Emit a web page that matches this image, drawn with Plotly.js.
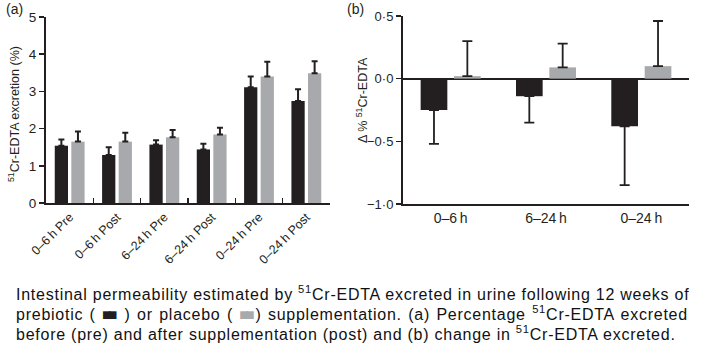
<!DOCTYPE html>
<html>
<head>
<meta charset="utf-8">
<script src="https://cdn.plot.ly/plotly-3.0.1.min.js"></script>
<style>
html,body{margin:0;padding:0;background:#fff;}
#chart{width:710px;height:358px;}
</style>
</head>
<body>
<div id="chart"></div>
<script>
// Panel (a): % 51Cr-EDTA excretion
const categoriesA = ["0–6\u2009h Pre", "0–6\u2009h Post", "6–24\u2009h Pre", "6–24\u2009h Post", "0–24\u2009h Pre", "0–24\u2009h Post"];
const prebioticA = [1.54, 1.29, 1.57, 1.44, 3.11, 2.74];
const prebioticErrA = [0.17, 0.21, 0.12, 0.15, 0.29, 0.32];
const placeboA = [1.65, 1.65, 1.77, 1.84, 3.40, 3.49];
const placeboErrA = [0.27, 0.24, 0.19, 0.18, 0.40, 0.32];

// Panel (b): change in 51Cr-EDTA
const categoriesB = ["0–6\u2009h", "6–24\u2009h", "0–24\u2009h"];
const prebioticB = [-0.25, -0.14, -0.38];
const prebioticErrB = [0.27, 0.21, 0.47];
const placeboB = [0.02, 0.09, 0.10];
const placeboErrB = [0.28, 0.19, 0.36];

const tickValsA = [0, 1, 2, 3, 4, 5];
const tickValsB = [0.5, 0, -0.5, -1.0];
const tickTextB = ["0·5", "0·0", "−0·5", "−1·0"];

const BLACK = "#231f20";
const GREY = "#a7a9ac";
const FONT = "Liberation Sans, Arial, sans-serif";
const W = 710, H = 358;
const px = v => v / W;
const py = v => 1 - v / H;

const zeros = n => new Array(n).fill(0);

const traces = [
  {type: "bar", x: categoriesA, y: prebioticA, xaxis: "x", yaxis: "y", marker: {color: BLACK},
   error_y: {type: "data", symmetric: false, array: prebioticErrA, arrayminus: zeros(prebioticErrA.length), color: BLACK, thickness: 2, width: 3}},
  {type: "bar", x: categoriesA, y: placeboA, xaxis: "x", yaxis: "y", marker: {color: GREY},
   error_y: {type: "data", symmetric: false, array: placeboErrA, arrayminus: zeros(placeboErrA.length), color: BLACK, thickness: 2, width: 3}},
  {type: "bar", x: categoriesB, y: prebioticB, xaxis: "x2", yaxis: "y2", marker: {color: BLACK},
   error_y: {type: "data", symmetric: false, array: zeros(prebioticErrB.length), arrayminus: prebioticErrB, color: BLACK, thickness: 1.8, width: 5}},
  {type: "bar", x: categoriesB, y: placeboB, xaxis: "x2", yaxis: "y2", marker: {color: GREY},
   error_y: {type: "data", symmetric: false, array: placeboErrB, arrayminus: zeros(placeboErrB.length), color: BLACK, thickness: 1.8, width: 5}}
];

const capFont = {size: 16, family: FONT, color: "#111"};
const sp = "letter-spacing:0.75px";
const swatch = c => "<span style='fill:" + c + ";letter-spacing:-4px'>■</span><span style='fill:" + c + ";letter-spacing:0.75px'>■</span>";

const layout = {
  width: W, height: H,
  margin: {l: 0, r: 0, t: 0, b: 0},
  paper_bgcolor: "#fff", plot_bgcolor: "rgba(0,0,0,0)",
  showlegend: false,
  barmode: "group", bargap: 0.3, bargroupgap: 0.2,
  font: {family: FONT, color: "#231f20", size: 12},
  xaxis: {domain: [px(46), px(330)], anchor: "y", type: "category",
          showline: true, linecolor: BLACK, linewidth: 2, ticks: "inside", tickson: "boundaries",
          ticklen: 5, tickwidth: 1.5, tickcolor: BLACK, tickangle: -45, tickfont: {size: 12.5, family: FONT},
          showgrid: false, zeroline: false},
  yaxis: {domain: [py(203), py(17)], anchor: "x", range: [0, 5], tickvals: tickValsA,
          showline: true, linecolor: BLACK, linewidth: 2, ticks: "outside", ticklen: 5, tickwidth: 1.5, tickcolor: BLACK,
          tickfont: {size: 13.5, family: FONT}, showgrid: false, zeroline: false},
  xaxis2: {domain: [px(403), px(689)], anchor: "y2", type: "category",
           showline: true, linecolor: BLACK, linewidth: 2, ticks: "", tickfont: {size: 14, family: FONT},
           showgrid: false, zeroline: false},
  yaxis2: {domain: [py(204), py(16)], anchor: "x2", range: [-1, 0.5], tickvals: tickValsB, ticktext: tickTextB,
           showline: true, linecolor: BLACK, linewidth: 2, ticks: "outside", ticklen: 5, tickwidth: 1.5, tickcolor: BLACK,
           tickfont: {size: 13, family: FONT}, showgrid: false,
           zeroline: true, zerolinecolor: BLACK, zerolinewidth: 2},
  annotations: [
    {xref: "paper", yref: "paper", x: px(4), y: py(9), xanchor: "left", yanchor: "middle", showarrow: false,
     text: "(a)", font: {size: 14, family: FONT}},
    {xref: "paper", yref: "paper", x: px(345), y: py(9), xanchor: "left", yanchor: "middle", showarrow: false,
     text: "(b)", font: {size: 14, family: FONT}},
    {xref: "paper", yref: "paper", x: px(14), y: py(114), xanchor: "center", yanchor: "middle", showarrow: false,
     textangle: -90, text: "<sup>51</sup>Cr-EDTA excretion (%)", font: {size: 12.5, family: FONT}},
    {xref: "paper", yref: "paper", x: px(362), y: py(100), xanchor: "center", yanchor: "middle", showarrow: false,
     textangle: -90, text: "Δ % <sup>51</sup>Cr-EDTA", font: {size: 12.5, family: FONT}},
    {xref: "paper", yref: "paper", x: px(14), y: py(293), xanchor: "left", yanchor: "middle", showarrow: false,
     text: "<span style='" + sp + "'>Intestinal permeability estimated by <sup>51</sup>Cr-EDTA excreted in urine following 12 weeks of</span>",
     font: capFont},
    {xref: "paper", yref: "paper", x: px(14), y: py(313), xanchor: "left", yanchor: "middle", showarrow: false,
     text: "<span style='" + sp + ";word-spacing:1.2px'>prebiotic ( </span>" + swatch(BLACK) +
           "<span style='" + sp + ";word-spacing:1.2px'> ) or placebo ( </span>" + swatch(GREY) +
           "<span style='" + sp + ";word-spacing:1.2px'>) supplementation. (a) Percentage <sup>51</sup>Cr-EDTA excreted</span>",
     font: capFont},
    {xref: "paper", yref: "paper", x: px(14), y: py(333), xanchor: "left", yanchor: "middle", showarrow: false,
     text: "<span style='" + sp + "'>before (pre) and after supplementation (post) and (b) change in <sup>51</sup>Cr-EDTA excreted.</span>",
     font: capFont}
  ]
};

Plotly.newPlot("chart", traces, layout, {staticPlot: true, displayModeBar: false});
</script>
</body>
</html>
